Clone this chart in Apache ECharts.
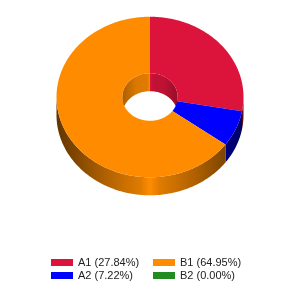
<!DOCTYPE html>
<html>
<head>
<meta charset="utf-8">
<script src="https://cdn.jsdelivr.net/npm/echarts@6/dist/echarts.min.js"></script>
<style>
  html, body { margin: 0; padding: 0; background: #fff; }
  #main { width: 300px; height: 300px; }
</style>
</head>
<body>
<div id="main"></div>
<script>
// slice data (percent shares)
const names = ['A1', 'A2', 'B1', 'B2'];
const values = [27.84, 7.22, 64.95, 0.00];
const colors = ['#dc143c', '#0000ff', '#ff8c00', '#228b22'];

// projected 3d donut geometry
const cx = 150, cy = 97;
const rx = 93.5, ry = 80.3;
const irx = 27.7, iry = 23.8;
const depth = 18;

const total = values.reduce((a, b) => a + b, 0);

function startAngle(i) {
  let s = 0;
  for (let k = 0; k < i; k++) s += values[k];
  return s / total * Math.PI * 2;
}

function pt(t, a, b, dy) {
  return [cx + a * Math.sin(t), cy - b * Math.cos(t) + dy];
}

function arc(t0, t1, a, b, dy) {
  const pts = [];
  const n = Math.max(2, Math.ceil(Math.abs(t1 - t0) / (Math.PI / 180)));
  for (let k = 0; k <= n; k++) pts.push(pt(t0 + (t1 - t0) * k / n, a, b, dy));
  return pts;
}

function shade(hex, f) {
  const c = parseInt(hex.slice(1), 16);
  const r = Math.round(((c >> 16) & 255) * f);
  const g = Math.round(((c >> 8) & 255) * f);
  const b = Math.round((c & 255) * f);
  return 'rgb(' + r + ',' + g + ',' + b + ')';
}

// horizontal cylinder shading, f = [edge, mid, center]
function wallFill(hex, r, f) {
  return {
    type: 'linear', global: true,
    x: cx - r, y: 0, x2: cx + r, y2: 0,
    colorStops: [
      { offset: 0, color: shade(hex, f[0]) },
      { offset: 0.25, color: shade(hex, f[1]) },
      { offset: 0.45, color: shade(hex, 0.88) },
      { offset: 0.5, color: shade(hex, f[2]) },
      { offset: 0.55, color: shade(hex, 0.88) },
      { offset: 0.75, color: shade(hex, f[1]) },
      { offset: 1, color: shade(hex, f[0]) }
    ]
  };
}

function clip(a0, a1, lo, hi) {
  const s = Math.max(a0, lo), e = Math.min(a1, hi);
  return e > s ? [s, e] : null;
}

function wallPoly(s, e, a, b) {
  return arc(s, e, a, b, 0).concat(arc(e, s, a, b, depth));
}

// side walls: outer front half, inner back half
function renderWalls(params, api) {
  const i = params.dataIndex;
  if (!values[i]) return null;
  const a0 = startAngle(i), a1 = a0 + values[i] / total * Math.PI * 2;
  const children = [];
  const outer = clip(a0, a1, Math.PI / 2, Math.PI * 1.5);
  if (outer) {
    children.push({ type: 'polygon', shape: { points: wallPoly(outer[0], outer[1], rx, ry) },
      style: { fill: wallFill(colors[i], rx, [0.38, 0.68, 1]) } });
  }
  [[0, Math.PI / 2], [Math.PI * 1.5, Math.PI * 2]].forEach(function (r) {
    const c = clip(a0, a1, r[0], r[1]);
    if (c) {
      children.push({ type: 'polygon', shape: { points: wallPoly(c[0], c[1], irx, iry) },
        style: { fill: wallFill(colors[i], irx, [0.68, 0.86, 1]) } });
    }
  });
  return { type: 'group', children: children };
}

// top face of one slice
function renderTop(params, api) {
  const i = params.seriesIndex - 1;
  if (!values[i]) return null;
  const a0 = startAngle(i), a1 = a0 + values[i] / total * Math.PI * 2;
  const pts = arc(a0, a1, rx, ry, 0).concat(arc(a1, a0, irx, iry, 0));
  return { type: 'polygon', shape: { points: pts }, style: { fill: colors[i] } };
}

const series = [{
  type: 'custom',
  name: 'walls',
  coordinateSystem: 'none',
  z: 1,
  silent: true,
  data: values,
  renderItem: renderWalls
}];
names.forEach(function (n, i) {
  series.push({
    type: 'custom',
    name: n,
    coordinateSystem: 'none',
    z: 2,
    itemStyle: { color: colors[i] },
    data: [values[i]],
    renderItem: renderTop
  });
});

function legendCol(list, left) {
  return {
    data: list,
    orient: 'vertical',
    left: left,
    top: 256,
    padding: 0,
    itemGap: 0,
    itemWidth: 22,
    itemHeight: 7,
    icon: 'rect',
    selectedMode: false,
    textStyle: { fontFamily: 'Liberation Sans, Arial, sans-serif', fontSize: 11, color: '#222', lineHeight: 13, padding: [0, 0, 0, 0] },
    formatter: function (name) {
      const i = names.indexOf(name);
      return name + ' (' + values[i].toFixed(2) + '%)';
    }
  };
}

const chart = echarts.init(document.getElementById('main'));
chart.setOption({
  animation: false,
  legend: [legendCol([names[0], names[1]], 51), legendCol([names[2], names[3]], 153)],
  series: series
});
</script>
</body>
</html>
